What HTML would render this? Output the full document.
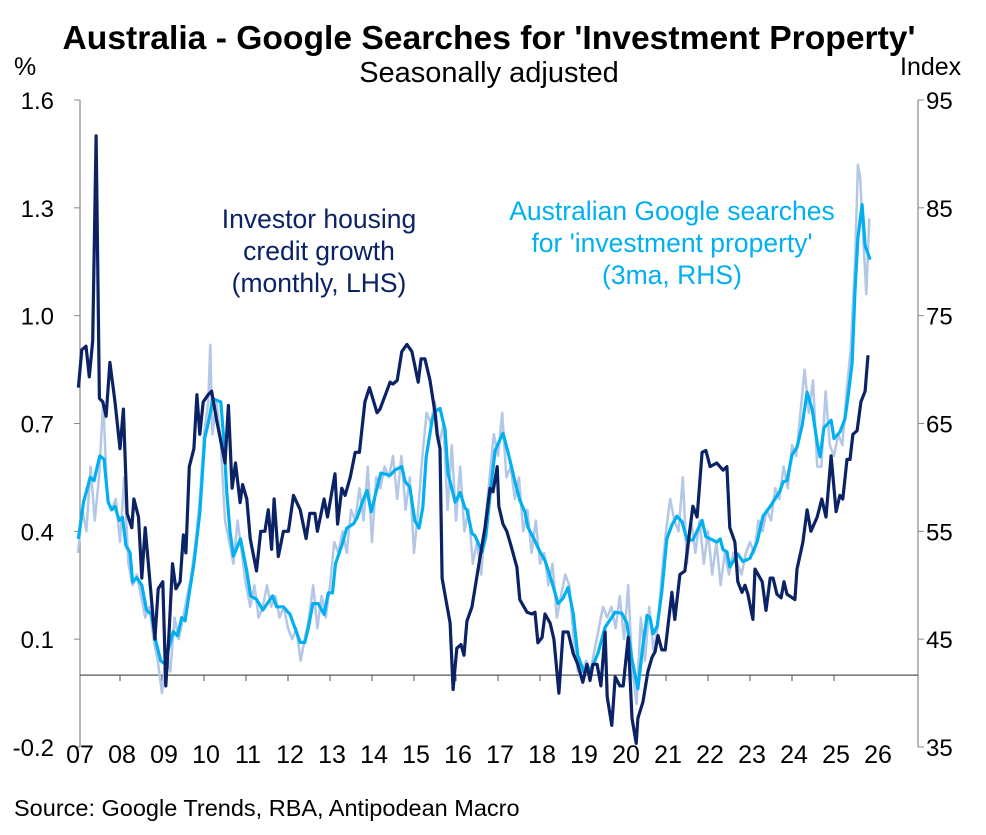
<!DOCTYPE html>
<html><head><meta charset="utf-8"><style>
html,body{margin:0;padding:0;background:#fff;}
body{width:986px;height:830px;overflow:hidden;font-family:"Liberation Sans",Arial,sans-serif;}
svg text{font-family:"Liberation Sans",Arial,sans-serif;}
</style></head><body>
<svg id="chart" width="986" height="830" viewBox="0 0 986 830" xmlns="http://www.w3.org/2000/svg">
<text x="489" y="49" text-anchor="middle" font-size="33" font-weight="bold" fill="#000" textLength="853" lengthAdjust="spacingAndGlyphs">Australia - Google Searches for 'Investment Property'</text>
<text x="489" y="82" text-anchor="middle" font-size="29" fill="#000">Seasonally adjusted</text>
<text x="14" y="75" font-size="25" fill="#000">%</text>
<text x="900" y="75" font-size="25" fill="#000">Index</text>
<g id="axes"></g>
<g id="series"></g>
<text text-anchor="middle" font-size="26.5" fill="#0b2265">
<tspan x="319" y="228">Investor housing</tspan><tspan x="319" y="260">credit growth</tspan><tspan x="319" y="292">(monthly, LHS)</tspan></text>
<text text-anchor="middle" font-size="26.5" fill="#00b0f0">
<tspan x="672" y="220">Australian Google searches</tspan><tspan x="672" y="252">for 'investment property'</tspan><tspan x="672" y="284">(3ma, RHS)</tspan></text>
<text x="14" y="816" font-size="23.5" fill="#000">Source: Google Trends, RBA, Antipodean Macro</text>
</svg>
<script>
// years since Jan 2007
const darkT=[0.01,0.09,0.19,0.27,0.35,0.43,0.51,0.59,0.67,0.76,0.88,1.00,1.08,1.17,1.28,1.33,1.44,1.52,1.60,1.75,1.83,1.91,2.02,2.09,2.17,2.25,2.33,2.43,2.51,2.57,2.65,2.76,2.83,2.90,2.98,3.10,3.18,3.30,3.42,3.50,3.58,3.67,3.75,3.86,3.92,4.02,4.10,4.25,4.35,4.45,4.53,4.61,4.67,4.77,4.89,5.01,5.13,5.29,5.43,5.52,5.64,5.70,5.86,5.94,6.12,6.18,6.28,6.36,6.48,6.60,6.70,6.83,6.94,7.12,7.19,7.43,7.50,7.60,7.71,7.83,7.95,8.10,8.17,8.26,8.38,8.50,8.55,8.62,8.67,8.76,8.86,8.93,9.02,9.12,9.19,9.26,9.38,9.52,9.69,9.81,9.88,9.98,10.02,10.12,10.21,10.31,10.45,10.52,10.69,10.81,10.88,10.95,11.05,11.12,11.24,11.33,11.45,11.55,11.67,11.79,11.90,12.02,12.12,12.19,12.26,12.36,12.45,12.55,12.60,12.71,12.79,12.90,12.98,13.10,13.19,13.29,13.33,13.45,13.57,13.67,13.74,13.81,13.90,13.98,14.14,14.21,14.33,14.45,14.52,14.64,14.74,14.86,14.95,15.05,15.21,15.36,15.45,15.52,15.64,15.71,15.81,15.88,15.95,16.07,16.12,16.29,16.38,16.48,16.55,16.64,16.74,16.81,16.88,17.07,17.12,17.26,17.36,17.45,17.60,17.71,17.81,17.93,18.05,18.14,18.21,18.31,18.38,18.45,18.55,18.64,18.74,18.81];
const darkV=[0.80,0.905,0.915,0.83,0.93,1.50,0.77,0.76,0.72,0.87,0.76,0.63,0.74,0.45,0.41,0.49,0.44,0.27,0.41,0.21,0.10,0.24,0.26,-0.03,0.12,0.31,0.24,0.26,0.39,0.34,0.58,0.63,0.78,0.67,0.76,0.78,0.79,0.71,0.64,0.59,0.75,0.52,0.59,0.48,0.53,0.49,0.38,0.29,0.40,0.40,0.46,0.35,0.49,0.33,0.40,0.40,0.50,0.46,0.38,0.45,0.45,0.40,0.49,0.44,0.56,0.42,0.52,0.50,0.55,0.62,0.62,0.76,0.80,0.73,0.74,0.815,0.81,0.82,0.90,0.92,0.90,0.815,0.88,0.88,0.82,0.73,0.67,0.63,0.27,0.21,0.145,-0.04,0.075,0.085,0.055,0.15,0.19,0.29,0.41,0.52,0.51,0.58,0.47,0.42,0.40,0.36,0.30,0.21,0.175,0.17,0.175,0.09,0.105,0.17,0.145,0.10,-0.05,0.12,0.12,0.06,0.03,-0.02,0.03,-0.015,0.03,0.03,-0.03,0.12,-0.06,-0.14,-0.005,-0.03,-0.03,0.105,-0.12,-0.19,-0.12,-0.075,0.01,0.05,0.065,0.11,0.07,0.07,0.23,0.155,0.28,0.29,0.36,0.47,0.44,0.62,0.625,0.58,0.59,0.57,0.58,0.41,0.37,0.26,0.23,0.25,0.225,0.155,0.295,0.26,0.18,0.27,0.27,0.225,0.215,0.26,0.225,0.21,0.295,0.37,0.46,0.40,0.44,0.49,0.44,0.61,0.455,0.50,0.49,0.60,0.60,0.67,0.68,0.76,0.79,0.89];
const cyanT=[0.01,0.13,0.29,0.38,0.52,0.62,0.72,0.80,0.88,0.98,1.06,1.14,1.24,1.30,1.40,1.52,1.63,1.75,1.86,1.97,2.07,2.17,2.27,2.37,2.47,2.55,2.65,2.76,2.90,3.02,3.10,3.21,3.40,3.48,3.54,3.62,3.70,3.87,4.02,4.11,4.25,4.40,4.63,4.73,4.89,5.05,5.14,5.29,5.40,5.48,5.59,5.72,5.86,5.96,6.06,6.13,6.28,6.40,6.56,6.65,6.77,6.88,6.98,7.07,7.21,7.43,7.55,7.71,7.79,7.90,8.02,8.12,8.21,8.29,8.43,8.50,8.62,8.74,8.81,8.98,9.10,9.21,9.26,9.38,9.45,9.62,9.71,9.83,9.93,10.12,10.24,10.40,10.52,10.64,10.71,10.83,11.00,11.12,11.29,11.43,11.55,11.67,11.79,11.90,12.05,12.24,12.38,12.55,12.79,12.95,13.07,13.19,13.33,13.45,13.55,13.62,13.69,13.79,13.90,14.02,14.14,14.26,14.38,14.50,14.64,14.86,14.95,15.21,15.29,15.36,15.45,15.52,15.71,15.83,16.00,16.17,16.31,16.48,16.71,16.79,16.88,17.00,17.12,17.24,17.36,17.48,17.60,17.67,17.76,17.93,18.00,18.14,18.26,18.33,18.43,18.50,18.57,18.67,18.74,18.86];
const cyanV=[54.3,57.7,60.0,59.7,62.0,61.7,57.7,57.0,57.3,56.0,56.3,53.7,53.0,50.3,50.7,50.0,47.7,47.3,44.7,43.0,42.7,44.3,45.7,45.3,47.0,46.7,49.3,52.0,56.7,63.7,65.0,67.3,67.0,63.0,58.7,55.0,52.7,54.3,51.3,49.0,48.7,47.7,49.0,48.0,48.0,47.3,46.3,44.7,44.7,46.0,48.3,48.3,47.3,49.3,49.3,52.0,53.7,55.3,55.7,56.3,57.7,58.8,56.8,58.2,60.4,60.2,60.7,61.0,59.6,59.1,56.0,55.3,57.2,61.9,65.3,66.1,66.4,64.4,60.4,57.7,58.6,57.2,57.0,54.8,54.6,53.1,54.5,59.1,62.5,64.1,62.3,59.7,57.9,56.8,55.4,54.5,53.1,52.3,50.2,48.3,48.8,49.8,47.4,43.5,41.9,42.4,43.7,46.1,47.5,47.4,46.5,43.1,40.4,44.4,47.2,47.0,45.5,46.2,49.4,54.3,55.6,56.4,55.9,54.2,54.2,56.0,54.5,54.0,54.3,53.3,53.1,51.7,52.9,52.2,52.5,54.0,56.4,57.3,58.7,59.6,59.7,62.1,62.8,64.8,67.9,66.3,63.2,61.9,64.6,65.3,63.6,64.2,65.4,67.4,70.6,77.3,82.2,85.3,81.5,80.2];
const rawT=[0.0,0.1,0.2,0.3,0.4,0.5,0.6,0.7,0.8,0.9,1.0,1.1,1.2,1.3,1.4,1.5,1.6,1.7,1.8,1.9,2.0,2.1,2.2,2.3,2.4,2.5,2.6,2.7,2.8,2.9,3.0,3.1,3.15,3.2,3.3,3.4,3.5,3.6,3.7,3.8,3.9,4.0,4.1,4.2,4.3,4.4,4.5,4.6,4.7,4.8,4.9,5.0,5.1,5.2,5.3,5.4,5.5,5.6,5.7,5.8,5.9,6.0,6.1,6.2,6.3,6.4,6.5,6.6,6.7,6.8,6.9,7.0,7.1,7.2,7.3,7.4,7.5,7.6,7.7,7.8,7.9,8.0,8.1,8.2,8.3,8.4,8.5,8.6,8.7,8.8,8.9,9.0,9.1,9.2,9.3,9.4,9.5,9.6,9.7,9.8,9.9,10.0,10.1,10.2,10.3,10.4,10.5,10.6,10.7,10.8,10.9,11.0,11.1,11.2,11.3,11.4,11.5,11.6,11.7,11.8,11.9,12.0,12.1,12.2,12.3,12.4,12.5,12.6,12.7,12.8,12.9,13.0,13.1,13.2,13.3,13.4,13.5,13.6,13.7,13.8,13.9,14.0,14.1,14.2,14.3,14.4,14.5,14.6,14.7,14.8,14.9,15.0,15.1,15.2,15.3,15.4,15.5,15.6,15.7,15.8,15.9,16.0,16.1,16.2,16.3,16.4,16.5,16.6,16.7,16.8,16.9,17.0,17.1,17.2,17.3,17.4,17.5,17.6,17.7,17.8,17.9,18.0,18.1,18.2,18.3,18.4,18.5,18.57,18.62,18.7,18.77,18.84];
const rawV=[53,57,55,61,56,60,67,58,57,58,54,60,52,50,51,49,47,48,45,43,40,44,42,47,45,47,49,51,54,58,64,67,72.3,64,67,63,56,54,52,56,53,50,48,50,47,48,50,48,49,47,48,46,45,46,43,45,47,50,46,49,47,50,54,53,55,53,57,56,59,56,61,54,60,59,61,60,62,58,62,57,60,53,57,62,66,65,67,63,65,57,63,56,61,55,57,52,54,51,56,60,64,62,66,60,61,58,60,55,57,53,56,52,53,50,52,47,49,51,50,45,42,42,43,42,44,46,48,47,48,46,49,45,50,42,39,47,43,48,44,46,51,55,58,56,55,60,52,56,53,56,52,55,51,54,50,53,51,53,52,51,53,54,53,56,55,57,56,59,58,61,59,63,62,66,70,66,69,61,61,68,63,62,64,63,68,72,80,89,88,82,77,84];
const leftTicks=[1.6,1.3,1.0,0.7,0.4,0.1,-0.2];
const leftTickLabels=["1.6","1.3","1.0","0.7","0.4","0.1","-0.2"];
const rightTicks=[95,85,75,65,55,45,35];
const yearLabels=["07","08","09","10","11","12","13","14","15","16","17","18","19","20","21","22","23","24","25","26"];

const NS="http://www.w3.org/2000/svg";
function xS(t){return 78+42*t;}
function yL(v){return 100+(1.6-v)/1.8*647;}
function yR(i){return 100+(95-i)/60*647;}
function mk(tag,attrs,parent){const e=document.createElementNS(NS,tag);for(const k in attrs)e.setAttribute(k,attrs[k]);parent.appendChild(e);return e;}
const axes=document.getElementById('axes');
let e;
e=mk('line',{x1:80,y1:yL(1.6),x2:80,y2:yL(-0.2),stroke:'#888','stroke-width':1.2},axes);


e=mk('line',{x1:918,y1:yR(95),x2:918,y2:yR(35),stroke:'#888','stroke-width':1.2},axes);


e=mk('line',{x1:80,y1:yL(0),x2:918,y2:yL(0),stroke:'#555','stroke-width':1.2},axes);


leftTicks.forEach((v,k)=>{
  e=mk('line',{x1:74,y1:yL(v),x2:80,y2:yL(v),stroke:'#888','stroke-width':1},axes);
  
  
  e=mk('text',{x:54,y:yL(v)+9,'text-anchor':'end','font-size':24,fill:'#000'},axes);
  e.textContent=leftTickLabels[k];
  
  
});
rightTicks.forEach(v=>{
  e=mk('line',{x1:918,y1:yR(v),x2:924,y2:yR(v),stroke:'#888','stroke-width':1},axes);
  
  
  e=mk('text',{x:926,y:yR(v)+9,'text-anchor':'start','font-size':24,fill:'#000'},axes);
  e.textContent=String(v);
  
  
});
yearLabels.forEach((lab,k)=>{
  const x=xS(k);
  if(k>0&&k<yearLabels.length-1){
    e=mk('line',{x1:x,y1:yL(0),x2:x,y2:yL(0)+6,stroke:'#555','stroke-width':1},axes);
    
    
  }
  e=mk('text',{x:x+2,y:763,'text-anchor':'middle','font-size':25,fill:'#000'},axes);
  e.textContent=lab;
  
  
});
const ser=document.getElementById('series');
function path(T,V,yf){return T.map((t,k)=>(k?'L':'M')+xS(t).toFixed(1)+','+yf(V[k]).toFixed(1)).join('');}
e=mk('path',{d:path(rawT,rawV,yR),fill:'none',stroke:'#b4c7e7','stroke-width':2.5,'stroke-linejoin':'round'},ser);


e=mk('path',{d:path(cyanT,cyanV,yR),fill:'none',stroke:'#00b0f0','stroke-width':3.2,'stroke-linejoin':'round'},ser);


e=mk('path',{d:path(darkT,darkV,yL),fill:'none',stroke:'#0b2265','stroke-width':3.2,'stroke-linejoin':'round'},ser);


</script>
</body></html>
